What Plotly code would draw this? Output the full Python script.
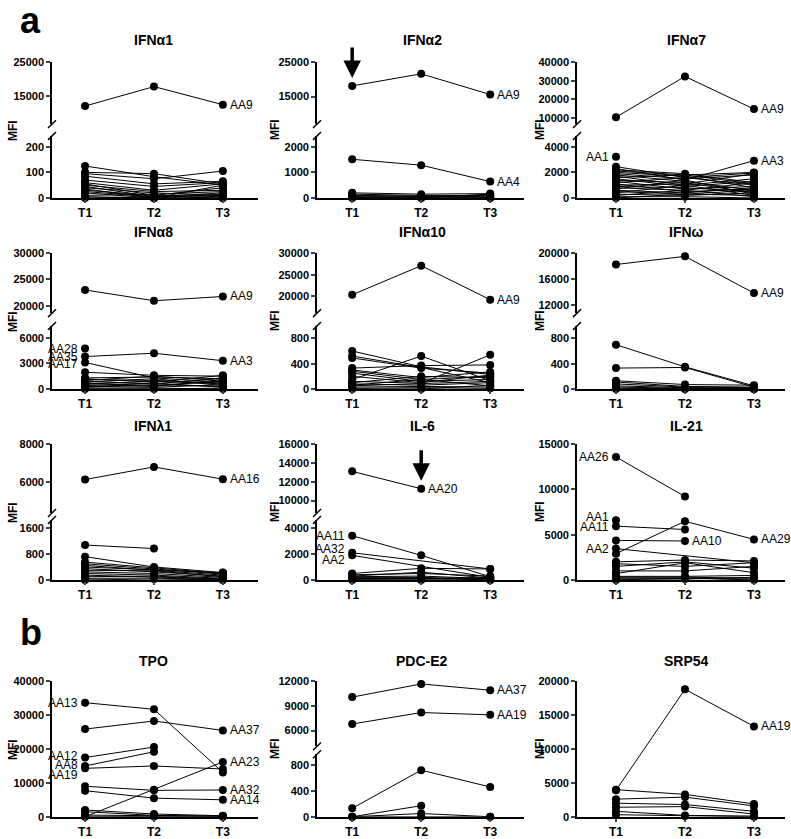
import plotly.graph_objects as go

W, H = 791, 839
TIMEPOINTS = ["T1", "T2", "T3"]
TX = [1, 2, 3]

# ---------------- data (MFI values at T1, T2, T3) ----------------
IFNA1_UPPER = [[11900, 17700, 12300]]
IFNA1_LOWER = [[125, 83, 50], [100, 95, 55], [95, 75, 105], [85, 55, 65], [70, 45, 60],
               [60, 30, 55], [55, 10, 40], [50, 25, 30], [45, 5, 20], [40, 20, 10],
               [35, 0, 50], [30, 10, 5], [25, 5, 0], [20, 0, 15], [10, 15, 25], [5, 0, 0], [0, 5, 10]]

IFNA2_UPPER = [[18100, 21600, 15600]]
IFNA2_LOWER = [[1510, 1280, 640], [200, 150, 170], [150, 100, 100], [100, 80, 50],
               [50, 30, 20], [20, 10, 0], [0, 0, 150], [80, 60, 120]]

IFNA7_UPPER = [[10400, 32300, 14800]]
IFNA7_LOWER = [[3230, None, None], [2300, 1400, 2920], [2450, 1600, 1950], [2200, 1900, 1200],
               [2100, 1800, 2000], [2000, 1700, 800], [1900, 1500, 1800], [1800, 1300, 600],
               [1700, 1000, 1500], [1600, 1800, 1100], [1500, 900, 1300], [1400, 1200, 400],
               [1300, 700, 900], [1200, 1600, 1000], [1100, 500, 700], [1000, 1100, 1900],
               [900, 800, 500], [800, 600, 1200], [700, 1400, 300], [600, 400, 800],
               [500, 300, 600], [400, 1000, 200], [300, 200, 400], [200, 600, 100],
               [100, 100, 0], [0, 300, 200]]

IFNA8_UPPER = [[23000, 20940, 21750]]
IFNA8_LOWER = [[4730, None, None], [3800, 4190, 3310], [3110, 1300, 800], [1960, 1600, 1500],
               [1300, 1400, 1200], [1200, 800, 1600], [1100, 1000, 700], [1000, 1500, 1000],
               [900, 600, 1300], [800, 1200, 400], [700, 400, 900], [600, 900, 600],
               [500, 300, 1100], [400, 700, 200], [300, 200, 500], [200, 500, 300],
               [100, 100, 0], [0, 0, 100]]

IFNA10_UPPER = [[20380, 27100, 19250]]
IFNA10_LOWER = [[600, 350, 230], [520, 340, 100], [490, 330, 250], [330, 370, 380],
                [300, 180, 270], [280, 150, 200], [250, 120, 150], [200, 100, 220],
                [150, 520, 130], [120, 90, 540], [100, 200, 180], [80, 60, 100],
                [60, 150, 50], [50, 80, 120], [30, 40, 30], [10, 20, 10], [0, 0, 60]]

IFNW_UPPER = [[18240, 19500, 13820]]
IFNW_LOWER = [[700, 350, 50], [330, 340, 30], [130, 70, 60], [110, 40, 30], [80, 30, 20],
              [50, 20, 10], [30, 10, 5], [10, 5, 0], [0, 0, 0]]

IFNL1_UPPER = [[6120, 6790, 6140]]
IFNL1_LOWER = [[1080, 970, None], [720, 400, 230], [550, 380, 200], [500, 350, 180],
               [450, 300, 150], [400, 320, 220], [350, 250, 120], [300, 280, 100],
               [250, 200, 80], [200, 150, 50], [150, 100, 30], [100, 120, 20],
               [50, 60, 10], [0, 30, 0]]

IL6_UPPER = [[13100, 11250, None]]
IL6_LOWER = [[3420, 1900, 250], [2100, None, 850], [1900, None, 200], [500, 900, 850],
             [400, 500, 300], [300, 600, 150], [250, 300, 100], [200, 200, 50],
             [150, 100, 200], [100, 150, 0], [50, 50, 100], [0, 0, 0]]

IL21 = [[13580, 9210, None], [6590, None, None], [5940, 5570, None], [4370, 4300, None],
        [2900, 6480, 4480], [3460, None, 1900], [2000, 2200, 2100], [1800, 1500, 1900],
        [1500, 2000, 1300], [1000, 1000, 1500], [700, 1900, 800], [400, 400, 500],
        [300, 300, 200], [200, 200, 100], [100, 100, 300], [0, 200, 0]]

TPO = [[33700, 31750, 13100], [25900, 28300, 25500], [17500, 20600, None], [15000, 19200, None],
       [14300, 15000, 14100], [9000, 7800, 7900], [7700, 5500, 5000], [0, 8000, 16200],
       [2000, 800, 300], [1500, 400, 200], [500, 200, 100], [100, 100, 0]]

PDCE2_UPPER = [[10080, 11690, 10920], [6800, 8200, 7920]]
PDCE2_LOWER = [[130, 720, 460], [0, 170, None], [0, 50, 0], [0, 0, 0]]

SRP54 = [[3900, 18830, 13350], [4000, 3300, 1900], [2600, 2900, 1600], [2000, 1800, 800],
         [1400, 1500, 400], [800, 200, 100], [300, 100, 0]]

# ---------------- layout geometry (pixels) ----------------
COLS = [(52, 258), (317, 524), (577, 785)]
XRANGES = [[0.52, 3.51], [0.49, 3.49], [0.435, 3.45]]
ROWS = [
    dict(upper=(57, 120), lower=(132, 195), title=35),
    dict(upper=(251, 312), lower=(325, 389), title=230),
    dict(upper=(445, 515), lower=(522, 583), title=427),
    dict(upper=(686, 752), lower=(760, 823.5), title=665),
]
TITLE_X = [153, 422, 686]
MFI_X = [13, 275, 540]

# labels: (text, segment, series index, time index, side, yshift)
PANELS = [
    dict(title="IFNα1", row=0, col=0, upper=IFNA1_UPPER, lower=IFNA1_LOWER,
         urange=[6500, 25000], uticks=[15000, 25000], lrange=[0, 242], lticks=[0, 100, 200],
         labels=[("AA9", "u", 0, 2, "r", 0)]),
    dict(title="IFNα2", row=0, col=1, upper=IFNA2_UPPER, lower=IFNA2_LOWER,
         urange=[7000, 25000], uticks=[15000, 25000], lrange=[0, 2420], lticks=[0, 1000, 2000],
         labels=[("AA9", "u", 0, 2, "r", 0), ("AA4", "l", 0, 2, "r", 0)],
         arrow=("u", 0, 0)),
    dict(title="IFNα7", row=0, col=2, upper=IFNA7_UPPER, lower=IFNA7_LOWER,
         urange=[6700, 40000], uticks=[10000, 20000, 30000, 40000], lrange=[0, 4850],
         lticks=[0, 2000, 4000],
         labels=[("AA9", "u", 0, 2, "r", 0), ("AA1", "l", 0, 0, "l", 0), ("AA3", "l", 1, 2, "r", 0)]),
    dict(title="IFNα8", row=1, col=0, upper=IFNA8_UPPER, lower=IFNA8_LOWER,
         urange=[18580, 30000], uticks=[20000, 25000, 30000], lrange=[0, 7385],
         lticks=[0, 3000, 6000],
         labels=[("AA9", "u", 0, 2, "r", 0), ("AA3", "l", 1, 2, "r", 0), ("AA28", "l", 0, 0, "l", 0),
                 ("AA35", "l", 1, 0, "l", 0), ("AA17", "l", 2, 0, "l", -2)]),
    dict(title="IFNα10", row=1, col=1, upper=IFNA10_UPPER, lower=IFNA10_LOWER,
         urange=[16140, 30000], uticks=[20000, 25000, 30000], lrange=[0, 996],
         lticks=[0, 400, 800], labels=[("AA9", "u", 0, 2, "r", 0)]),
    dict(title="IFNω", row=1, col=2, upper=IFNW_UPPER, lower=IFNW_LOWER,
         urange=[10720, 20000], uticks=[12000, 16000, 20000], lrange=[0, 996],
         lticks=[0, 400, 800], labels=[("AA9", "u", 0, 2, "r", 0)]),
    dict(title="IFNλ1", row=2, col=0, upper=IFNL1_UPPER, lower=IFNL1_LOWER,
         urange=[4345, 8000], uticks=[6000, 8000], lrange=[0, 1855], lticks=[0, 800, 1600],
         labels=[("AA16", "u", 0, 2, "r", 0)]),
    dict(title="IL-6", row=2, col=1, upper=IL6_UPPER, lower=IL6_LOWER,
         urange=[8670, 16000], uticks=[10000, 12000, 14000, 16000], lrange=[0, 4640],
         lticks=[0, 2000, 4000],
         labels=[("AA20", "u", 0, 1, "r", 0), ("AA11", "l", 0, 0, "l", 0),
                 ("AA32", "l", 1, 0, "l", 4), ("AA2", "l", 2, 0, "l", -5)],
         arrow=("u", 0, 1)),
    dict(title="IL-21", row=2, col=2, upper=None, lower=IL21,
         lrange=[0, 15000], lticks=[0, 5000, 10000, 15000],
         labels=[("AA26", "l", 0, 0, "l", 0), ("AA1", "l", 1, 0, "l", 3), ("AA11", "l", 2, 0, "l", -1),
                 ("AA2", "l", 5, 0, "l", 0), ("AA10", "l", 3, 1, "r", 0), ("AA29", "l", 4, 2, "r", 0)]),
    dict(title="TPO", row=3, col=0, upper=None, lower=TPO,
         lrange=[0, 40000], lticks=[0, 10000, 20000, 30000, 40000],
         labels=[("AA13", "l", 0, 0, "l", 0), ("AA12", "l", 2, 0, "l", 2), ("AA8", "l", 3, 0, "l", 1),
                 ("AA19", "l", 4, 0, "l", -7), ("AA37", "l", 1, 2, "r", 0), ("AA23", "l", 7, 2, "r", 0),
                 ("AA32", "l", 5, 2, "r", 0), ("AA14", "l", 6, 2, "r", 0)]),
    dict(title="PDC-E2", row=3, col=1, upper=PDCE2_UPPER, lower=PDCE2_LOWER,
         urange=[4080, 12000], uticks=[6000, 9000, 12000], lrange=[0, 966], lticks=[0, 400, 800],
         labels=[("AA37", "u", 0, 2, "r", 0), ("AA19", "u", 1, 2, "r", 0)]),
    dict(title="SRP54", row=3, col=2, upper=None, lower=SRP54,
         lrange=[0, 20000], lticks=[0, 5000, 10000, 15000, 20000],
         labels=[("AA19", "l", 0, 2, "r", 0)]),
]

FONT = "Arial, Liberation Sans, sans-serif"


def fx(p):
    return p / W


def fy(p):
    return 1 - p / H


fig = go.Figure()
layout = {}
shapes = []
annotations = []

for i, p in enumerate(PANELS, start=1):
    c0, c1 = COLS[p["col"]]
    row = ROWS[p["row"]]
    xname = "x" if i == 1 else f"x{i}"
    xkey = "xaxis" if i == 1 else f"xaxis{i}"
    yname = "y" if i == 1 else f"y{i}"
    ykey = "yaxis" if i == 1 else f"yaxis{i}"
    uname = f"y{12 + i}"
    ukey = f"yaxis{12 + i}"
    broken = p["upper"] is not None
    if broken:
        lt, lb = row["lower"]
    else:
        lt, lb = row["upper"][0], row["lower"][1]

    layout[xkey] = dict(domain=[fx(c0), fx(c1)], anchor=yname, range=XRANGES[p["col"]],
                        tickvals=TX, ticktext=TIMEPOINTS, showline=True, linecolor="black",
                        linewidth=1.6, ticks="outside", ticklen=3, tickwidth=1.5,
                        showgrid=False, zeroline=False,
                        tickfont=dict(family=FONT, size=12, color="black", weight="bold"))
    yaxis_common = dict(anchor=xname, showline=True, linecolor="black", linewidth=1.6,
                        ticks="outside", ticklen=4, tickwidth=1.5, showgrid=False,
                        zeroline=False, tickformat="d",
                        tickfont=dict(family=FONT, size=11, color="black", weight="bold"))
    layout[ykey] = dict(domain=[fy(lb), fy(lt)], range=p["lrange"], tickvals=p["lticks"],
                        **yaxis_common)
    if broken:
        ut, ub = row["upper"]
        layout[ukey] = dict(domain=[fy(ub), fy(ut)], range=p["urange"], tickvals=p["uticks"],
                            **yaxis_common)
        for yy in (ub, lt):
            shapes.append(dict(type="line", xref="paper", yref="paper",
                               x0=fx(c0 - 4), y0=fy(yy + 4), x1=fx(c0 + 4), y1=fy(yy - 4),
                               line=dict(color="black", width=1.5)))

    segs = [("l", p["lower"], yname)]
    if broken:
        segs.append(("u", p["upper"], uname))
    for seg, series_list, yref in segs:
        for s in series_list:
            fig.add_trace(go.Scatter(x=TX, y=s, xaxis=xname, yaxis=yref, mode="lines+markers",
                                     connectgaps=True, cliponaxis=False,
                                     line=dict(color="black", width=1),
                                     marker=dict(color="black", size=8),
                                     hoverinfo="skip", showlegend=False))

    for text, seg, si, ti, side, ysh in p["labels"]:
        series_list = p["upper"] if seg == "u" else p["lower"]
        yref = uname if seg == "u" else yname
        annotations.append(dict(x=TX[ti], y=series_list[si][ti], xref=xname, yref=yref,
                                text=text, showarrow=False,
                                xanchor="left" if side == "r" else "right",
                                xshift=5 if side == "r" else -5, yshift=ysh,
                                font=dict(family=FONT, size=12, color="black")))

    if "arrow" in p:
        seg, si, ti = p["arrow"]
        series_list = p["upper"] if seg == "u" else p["lower"]
        yref = uname if seg == "u" else yname
        annotations.append(dict(x=TX[ti], y=series_list[si][ti], xref=xname, yref=yref,
                                text="", showarrow=True, ax=0, ay=-40, standoff=8,
                                arrowhead=2, arrowsize=1, arrowwidth=3.5, arrowcolor="black"))

    annotations.append(dict(x=fx(TITLE_X[p["col"]]), y=fy(row["title"]), xref="paper",
                            yref="paper", text=p["title"], showarrow=False,
                            xanchor="center", yanchor="middle",
                            font=dict(family=FONT, size=14, color="black", weight="bold")))
    top = row["upper"][0]
    bot = row["lower"][1]
    annotations.append(dict(x=fx(MFI_X[p["col"]]), y=fy((top + bot) / 2), xref="paper",
                            yref="paper", text="MFI", showarrow=False, textangle=-90,
                            xanchor="center", yanchor="middle",
                            font=dict(family=FONT, size=12, color="black", weight="bold")))

annotations.append(dict(x=fx(18), y=fy(15), xref="paper", yref="paper", text="a",
                        showarrow=False, xanchor="left", yanchor="middle",
                        font=dict(family=FONT, size=36, color="black", weight="bold")))
annotations.append(dict(x=fx(18), y=fy(636), xref="paper", yref="paper", text="b",
                        showarrow=False, xanchor="left", yanchor="middle",
                        font=dict(family=FONT, size=36, color="black", weight="bold")))

fig.update_layout(width=W, height=H, margin=dict(l=0, r=0, t=0, b=0),
                  plot_bgcolor="white", paper_bgcolor="white", showlegend=False,
                  shapes=shapes, annotations=annotations, **layout)
fig.write_html("out.html", config={"displayModeBar": False},
               post_script="document.body.style.margin='0';document.body.style.overflow='hidden';")
